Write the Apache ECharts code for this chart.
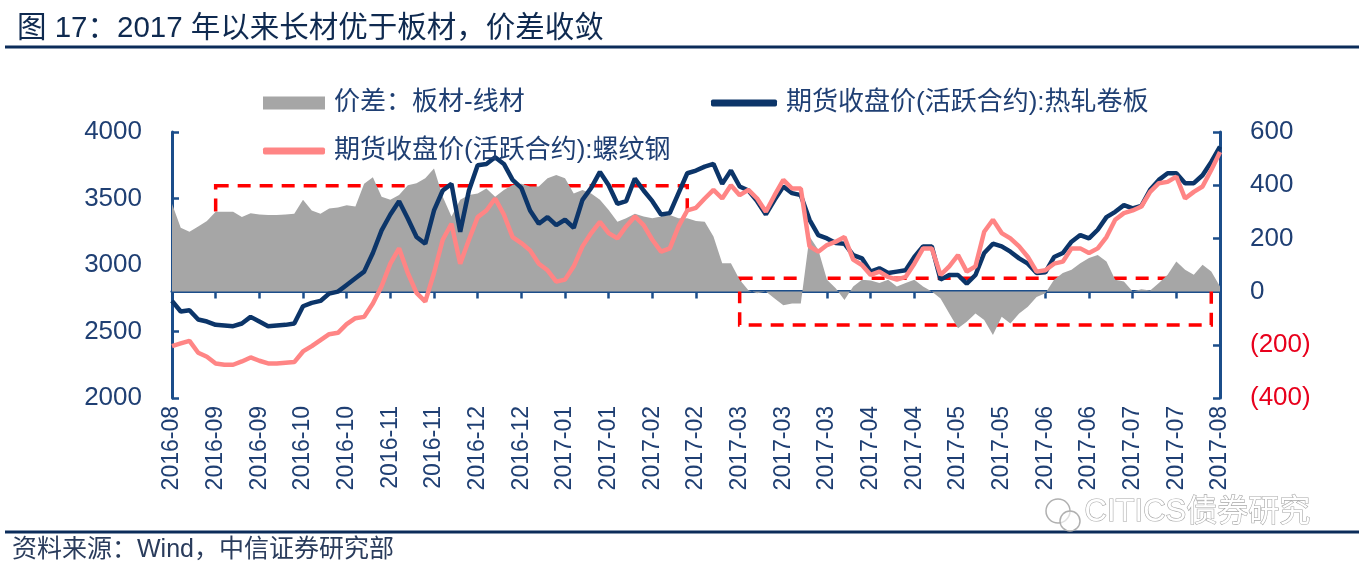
<!DOCTYPE html>
<html lang="zh-CN">
<head>
    <meta charset="UTF-8">
    <title>图17 长材优于板材，价差收敛</title>
    <style>
        body { margin: 0; background: #fff; }
        #main { width: 1359px; height: 576px; }
    </style>
</head>
<body>
<div id="main"></div>
<script src="https://cdn.jsdelivr.net/npm/echarts@6/dist/echarts.min.js"></script>
<script type="text/javascript">
    // 横轴刻度标签（每 5 个数据点一个刻度）
    var tickLabels = ['2016-08', '2016-09', '2016-09', '2016-10', '2016-10', '2016-11', '2016-11',
        '2016-12', '2016-12', '2017-01', '2017-01', '2017-02', '2017-02', '2017-03', '2017-03',
        '2017-03', '2017-04', '2017-04', '2017-05', '2017-05', '2017-06', '2017-06', '2017-07',
        '2017-07', '2017-08'];

    // 期货收盘价(活跃合约):热轧卷板
    var hrc = [2730, 2650, 2660, 2590, 2575, 2550, 2545, 2540, 2560, 2610,
        2575, 2540, 2545, 2550, 2560, 2690, 2715, 2730, 2785, 2800,
        2850, 2900, 2950, 3090, 3260, 3380, 3480, 3350, 3210, 3160,
        3410, 3560, 3610, 3250, 3560, 3750, 3760, 3810, 3760, 3640,
        3580, 3410, 3310, 3360, 3300, 3340, 3280, 3490, 3580, 3700,
        3600, 3460, 3480, 3650, 3560, 3480, 3380, 3390, 3540, 3690,
        3710, 3740, 3760, 3610, 3710, 3590, 3560, 3480, 3380, 3490,
        3590, 3540, 3525, 3340, 3225, 3200, 3165, 3160, 3075, 3050,
        2950, 2975, 2940, 2950, 2960, 3060, 3140, 3140, 2890, 2925,
        2925, 2860, 2925, 3090, 3160, 3140, 3100, 3050, 3010, 2940,
        2945, 3060, 3090, 3175, 3225, 3200, 3265, 3360, 3400, 3450,
        3425, 3445, 3565, 3640, 3690, 3690, 3615, 3615, 3675, 3775,
        3890];

    // 期货收盘价(活跃合约):螺纹钢
    var rebar = [2390, 2410, 2430, 2340, 2310, 2260, 2250, 2250, 2275, 2305,
        2280, 2260, 2260, 2265, 2270, 2350, 2390, 2435, 2480, 2490,
        2555, 2600, 2610, 2710, 2840, 3010, 3125, 2940, 2790, 2725,
        2940, 3190, 3310, 3010, 3190, 3360, 3410, 3500, 3380, 3210,
        3165, 3110, 3010, 2960, 2875, 2890, 2990, 3140, 3240, 3325,
        3240, 3200, 3290, 3365, 3300, 3190, 3100, 3125, 3290, 3410,
        3430, 3500, 3565, 3500, 3600, 3525, 3565, 3500, 3400, 3525,
        3640, 3575, 3575, 3140, 3100, 3150, 3175, 3210, 3040, 3000,
        2925, 2950, 2910, 2890, 2910, 3010, 3125, 3125, 2925, 2990,
        3075, 2950, 2990, 3250, 3340, 3240, 3200, 3140, 3060, 2950,
        2960, 3010, 3025, 3125, 3125, 3090, 3125, 3210, 3340, 3390,
        3410, 3440, 3550, 3615, 3625, 3665, 3500, 3550, 3590, 3715,
        3850];

    // 价差：板材-线材（右轴）
    var spread = [330, 240, 225, 245, 265, 300, 300, 300, 280, 295,
        290, 288, 288, 290, 293, 345, 305, 293, 312, 316,
        325, 320, 405, 430, 357, 345, 363, 400, 407, 426,
        463, 357, 282, 345, 363, 369, 388, 357, 382, 401,
        405, 395, 395, 426, 438, 426, 369, 382, 369, 345,
        307, 263, 276, 293, 282, 276, 282, 288, 276, 276,
        265, 263, 207, 107, 107, 45, 5, -6, 0, -26,
        -51, -45, -45, 207, 157, 45, 13, -32, 19, 45,
        42, 32, 45, 19, 32, 45, 19, 0, -26, -82,
        -138, -113, -82, -107, -163, -95, -120, -82, -57, -20,
        -6, 45, 70, 82, 107, 126, 138, 113, 45, 38,
        0, 9, 4, 32, 63, 113, 82, 63, 101, 76,
        19];

    var categories = hrc.map(function (v, i) { return String(i); });

    var navy = '#0C3569';
    var pink = '#FF8585';
    var axisBlue = '#1B4D8A';
    var textBlue = '#1F3F73';
    var cjk = '"Liberation Sans", "Noto Sans CJK SC", sans-serif';

    var myChart = echarts.init(document.getElementById('main'));
    var option = {
        animation: false,
        backgroundColor: '#fff',
        title: {
            text: '图 17：2017 年以来长材优于板材，价差收敛',
            left: 12,
            top: 9,
            textStyle: { fontSize: 29.5, fontWeight: 'normal', color: '#0F2A50', fontFamily: cjk }
        },
        legend: [{
            data: ['价差：板材-线材'],
            left: 258, top: 85,
            icon: 'rect', itemWidth: 62, itemHeight: 13,
            textStyle: { fontSize: 26, color: textBlue, fontFamily: cjk, padding: [0, 0, 0, 4] }
        }, {
            data: ['期货收盘价(活跃合约):热轧卷板'],
            left: 706, top: 85,
            icon: 'roundRect', itemWidth: 66, itemHeight: 7,
            textStyle: { fontSize: 26, color: textBlue, fontFamily: cjk, padding: [0, 0, 0, 4] }
        }, {
            data: ['期货收盘价(活跃合约):螺纹钢'],
            left: 258, top: 133,
            icon: 'roundRect', itemWidth: 62, itemHeight: 7,
            textStyle: { fontSize: 26, color: textBlue, fontFamily: cjk, padding: [0, 0, 0, 4] }
        }],
        grid: { left: 172, right: 139, top: 132, bottom: 178 },
        xAxis: {
            type: 'category',
            data: categories,
            boundaryGap: false,
            axisLine: { lineStyle: { color: axisBlue, width: 3 } },
            axisTick: { interval: 4, length: 7, lineStyle: { color: axisBlue, width: 2.5 } },
            axisLabel: {
                interval: 4,
                rotate: 90,
                margin: 8,
                fontSize: 23,
                color: textBlue,
                fontFamily: 'Liberation Sans',
                formatter: function (v, i) { return tickLabels[i / 5]; }
            },
            splitLine: { show: false }
        },
        yAxis: [{
            type: 'value',
            min: 2000, max: 4000, interval: 500,
            axisLine: { show: true, lineStyle: { color: axisBlue, width: 3 } },
            axisTick: { show: true, inside: true, length: 7, lineStyle: { color: axisBlue, width: 2.5 } },
            axisLabel: {
                margin: 30, fontSize: 26, color: textBlue, fontFamily: 'Liberation Sans',
                formatter: function (v) { return String(v); }
            },
            splitLine: { show: false }
        }, {
            type: 'value',
            min: -400, max: 600, interval: 200,
            axisLine: { show: true, lineStyle: { color: axisBlue, width: 3 } },
            axisTick: { show: true, inside: true, length: 7, lineStyle: { color: axisBlue, width: 2.5 } },
            axisLabel: {
                margin: 30, fontSize: 26, fontFamily: 'Liberation Sans',
                color: function (v) { return v < 0 ? '#E8001C' : textBlue; },
                formatter: function (v) { return v < 0 ? '(' + (-v) + ')' : String(v); }
            },
            splitLine: { show: false }
        }],
        series: [{
            name: '价差：板材-线材',
            type: 'line',
            yAxisIndex: 1,
            data: spread,
            symbol: 'none',
            itemStyle: { color: '#A6A6A6' },
            lineStyle: { width: 0 },
            areaStyle: { color: '#A6A6A6', opacity: 1, origin: 0 },
            z: 1
        }, {
            name: '期货收盘价(活跃合约):热轧卷板',
            type: 'line',
            data: hrc,
            symbol: 'none',
            itemStyle: { color: navy },
            lineStyle: { color: navy, width: 4.5 },
            z: 3
        }, {
            name: '期货收盘价(活跃合约):螺纹钢',
            type: 'line',
            data: rebar,
            symbol: 'none',
            itemStyle: { color: pink },
            lineStyle: { color: pink, width: 4.5 },
            z: 4,
            markArea: {
                silent: true,
                label: { show: false },
                itemStyle: {
                    color: 'rgba(0,0,0,0)',
                    borderColor: '#FF0000',
                    borderWidth: 3.5,
                    borderType: [13, 9]
                },
                data: [
                    [{ xAxis: 5, yAxis: 3595 }, { xAxis: 59, yAxis: 3240 }],
                    [{ xAxis: 65, yAxis: 2900 }, { xAxis: 119, yAxis: 2548 }]
                ]
            }
        }],
        graphic: [{
            type: 'line',
            shape: { x1: 5, y1: 47, x2: 1359, y2: 47 },
            style: { stroke: '#0B2C5A', lineWidth: 3 }
        }, {
            type: 'line',
            shape: { x1: 5, y1: 532, x2: 1359, y2: 532 },
            style: { stroke: '#0B2C5A', lineWidth: 3 }
        }, {
            type: 'text',
            left: 12, top: 538,
            style: { text: '资料来源：Wind，中信证券研究部', fontSize: 25, fill: '#2A3C5C', fontFamily: cjk }
        }, {
            type: 'circle',
            shape: { cx: 1058, cy: 511, r: 12 },
            style: { fill: 'rgba(255,255,255,0.6)', stroke: '#B0B0B0', lineWidth: 1.5 }
        }, {
            type: 'circle',
            shape: { cx: 1070, cy: 521, r: 10 },
            style: { fill: 'rgba(255,255,255,0.6)', stroke: '#B0B0B0', lineWidth: 1.5 }
        }, {
            type: 'text',
            left: 1084, top: 496,
            style: {
                text: 'CITICS债券研究', fontSize: 31, fontFamily: cjk,
                fill: '#FFFFFF', stroke: '#A8A8A8', lineWidth: 1.2
            },
            z: 10
        }]
    };
    myChart.setOption(option);
</script>
</body>
</html>
